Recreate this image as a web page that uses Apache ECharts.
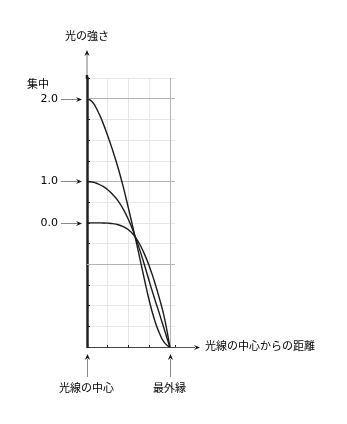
<!DOCTYPE html>
<html><head><meta charset="utf-8">
<script src="https://cdn.jsdelivr.net/npm/echarts@6/dist/echarts.min.js"></script>
<style>html,body{margin:0;padding:0;background:#fff}#c{width:347px;height:424px}</style>
</head><body><div id="c"></div>
<script>
// distance from the beam centre (0 = centre, 4 = outer edge)
const distance = [0,0.25,0.5,0.75,1,1.25,1.5,1.75,2,2.25,2.5,2.75,3,3.25,3.5,3.75,4];
// light intensity profiles (grid units)
const focused = [12,11.85,11.44,10.88,10.21,9.47,8.66,7.74,6.71,5.64,4.52,3.37,2.27,1.35,0.66,0.2,0];
const medium  = [8,7.975,7.9,7.775,7.6,7.36,7.06,6.66,6.16,5.55,4.84,4.05,3.2,2.38,1.6,0.8,0];
const flat    = [6,6,6,5.995,5.985,5.96,5.91,5.82,5.67,5.42,5.05,4.55,3.93,3.19,2.34,1.36,0];
// level annotations
const levelValues = [12, 8, 6];
const levelTexts  = ['2.0', '1.0', '0.0'];
const darkLinesY = [12, 8, 4];
const darkLinesX = [4];
const bottomPositions = [0, 4];
const bottomTexts = ['光線の中心', '最外縁'];
const yTitle = '光の強さ';
const xTitle = '光線の中心からの距離';
const topText = '集中';

const FONT = '"DejaVu Sans","Noto Sans CJK JP",sans-serif';
const chart = echarts.init(document.getElementById('c'), null, {renderer: 'canvas'});
const toPairs = arr => distance.map((x, i) => [x, arr[i]]);
const curveStyle = {color: '#1a1a1a', width: 1.4};
const curve = arr => ({type: 'line', data: toPairs(arr), showSymbol: false, smooth: 0.5,
  lineStyle: curveStyle, z: 5});

const s0 = curve(focused);
s0.markLine = {silent: true, symbol: 'none', label: {show: false},
  lineStyle: {color: '#b3b3b3', type: 'solid', width: 1},
  data: darkLinesY.map(v => ({yAxis: v})).concat(darkLinesX.map(v => ({xAxis: v}))), z: 2};

chart.setOption({
  animation: false,
  backgroundColor: '#fff',
  grid: {left: 87, top: 78, right: 172, bottom: 77, containLabel: false},
  xAxis: {
    type: 'value', min: 0, max: 4.25, interval: 1,
    name: xTitle, nameLocation: 'end', nameGap: 30,
    nameTextStyle: {fontFamily: FONT, fontSize: 11, color: '#000', padding: [6, 0, 0, 0]},
    axisLine: {show: true, lineStyle: {color: '#444', width: 1}},
    axisTick: {show: true, inside: true, length: 2, lineStyle: {color: '#222'}},
    axisLabel: {show: false},
    splitLine: {show: true, showMaxLine: false, lineStyle: {color: '#e6e6e6', width: 1}}
  },
  yAxis: {
    type: 'value', min: 0, max: 13, interval: 1,
    name: yTitle, nameLocation: 'end', nameGap: 35,
    nameTextStyle: {fontFamily: FONT, fontSize: 11, color: '#000', align: 'center'},
    axisLine: {show: true, lineStyle: {color: '#222', width: 2.5}},
    axisTick: {show: true, inside: true, length: 3, lineStyle: {color: '#222', width: 1}},
    axisLabel: {show: false},
    splitLine: {show: true, lineStyle: {color: '#e6e6e6', width: 1}}
  },
  series: [s0, curve(medium), curve(flat)]
});

function px(x, y) { return chart.convertToPixel({gridIndex: 0}, [x, y]); }
function arrowHead(tx, ty, dir) {
  const L = 6, W = 2.6;
  let pts;
  if (dir === 'right') pts = [[tx, ty], [tx - L, ty - W], [tx - L * 0.65, ty], [tx - L, ty + W]];
  else pts = [[tx, ty], [tx - W, ty + L], [tx, ty + L * 0.65], [tx + W, ty + L]];
  return {type: 'polygon', shape: {points: pts}, style: {fill: '#111'}, z: 20, silent: true};
}
function seg(x1, y1, x2, y2, color, w) {
  return {type: 'line', shape: {x1, y1, x2, y2}, style: {stroke: color, lineWidth: w || 1}, z: 19, silent: true};
}
function label(x, y, t, align) {
  return {type: 'text', x, y, style: {text: t, fill: '#000', font: '11px ' + FONT, align: align || 'center', verticalAlign: 'middle'}, z: 20, silent: true};
}

const g = [];
const pOrigin = px(0, 0);
const pTopAxis = px(0, 13);
const pXEnd = px(4.25, 0);
const ax = Math.round(pOrigin[0]);
// thick axis slightly above top grid line
g.push(seg(ax, pTopAxis[1] + 1, ax, pTopAxis[1] - 3, '#222', 2.5));
// y-axis extension with arrow
g.push(seg(ax, pTopAxis[1] - 3, ax, pTopAxis[1] - 24, '#777', 1));
g.push(arrowHead(ax, pTopAxis[1] - 28, 'up'));
// x-axis extension with arrow
const ay = Math.round(pOrigin[1]) + 0.5;
g.push(seg(pXEnd[0], ay, pXEnd[0] + 20, ay, '#555', 1));
g.push(arrowHead(pXEnd[0] + 25, ay, 'right'));
// level labels with arrows
levelValues.forEach((v, i) => {
  const p = px(0, v);
  const y = Math.round(p[1]) + 0.5;
  g.push(seg(ax - 26, y, ax - 8, y, '#888', 1));
  g.push(arrowHead(ax - 5, y, 'right'));
  g.push(label(ax - 29, y, levelTexts[i], 'right'));
});
const pLevelTop = px(0, levelValues[0]);
g.push(label(ax - 49, pLevelTop[1] - 14, topText, 'center'));
// bottom annotations
bottomPositions.forEach((v, i) => {
  const p = px(v, 0);
  const x = Math.round(p[0]) + 0.5;
  g.push(seg(x, p[1] + 12, x, p[1] + 30, '#888', 1));
  g.push(arrowHead(x, p[1] + 7, 'up'));
  g.push(label(x - 1, p[1] + 42, bottomTexts[i], 'center'));
});
chart.setOption({graphic: {elements: g}});
</script></body></html>
